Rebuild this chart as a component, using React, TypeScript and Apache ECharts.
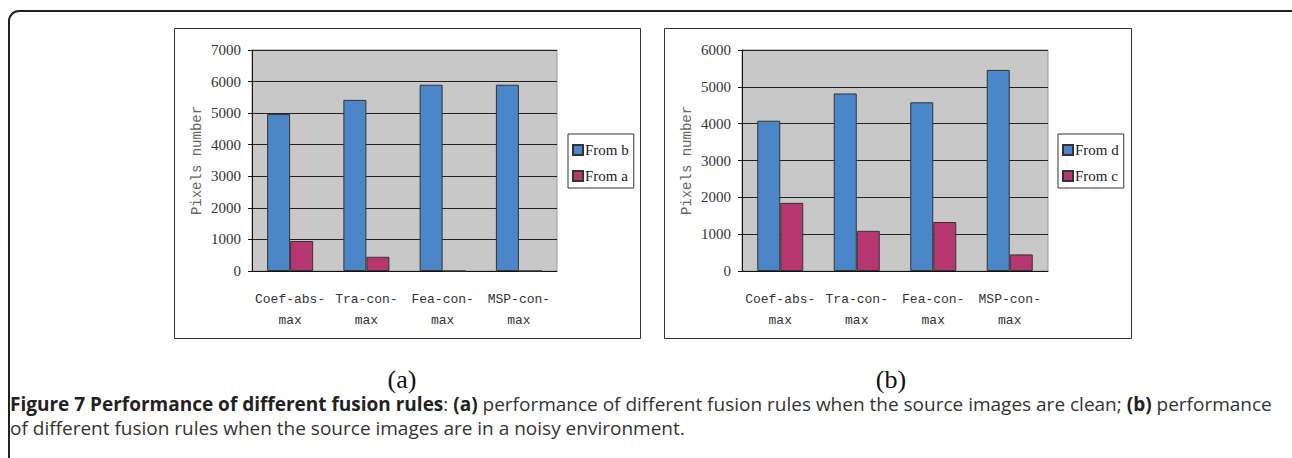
import React, { useEffect, useRef } from "react";
import * as echarts from "echarts";

const categories = ["Coef-abs-\nmax", "Tra-con-\nmax", "Fea-con-\nmax", "MSP-con-\nmax"];
const fromB = [4970, 5420, 5900, 5900];
const fromA = [950, 450, 0, 0];
const fromD = [4080, 4820, 4580, 5460];
const fromC = [1850, 1090, 1330, 450];
const yTicksA = { min: 0, max: 7000, interval: 1000 };
const yTicksB = { min: 0, max: 6000, interval: 1000 };
const yName = "Pixels number";
const panelLabels = ["(a)", "(b)"];

const BLUE = "#4a86c8";
const MAGENTA = "#b6376f";

export default function App() {
  const ref = useRef<HTMLDivElement>(null);
  useEffect(() => {
    const chart = echarts.init(ref.current!, null, { renderer: "svg" });
    const grids = [
      { left: 252, top: 50, width: 305, height: 221 },
      { left: 742, top: 50, width: 306, height: 221 },
    ];
    const xAxis = grids.map((_, i) => ({
      type: "category",
      gridIndex: i,
      data: categories,
      axisLine: { lineStyle: { color: "#111", width: 1 } },
      axisTick: { inside: true, length: 4, lineStyle: { color: "#333" } },
      axisLabel: {
        fontFamily: "Liberation Mono",
        fontSize: 13,
        color: "#333",
        margin: 18,
        lineHeight: 21,
        interval: 0,
      },
    }));
    const yAxis = [yTicksA, yTicksB].map((t, i) => ({
      type: "value",
      gridIndex: i,
      min: t.min,
      max: t.max,
      interval: t.interval,
      name: yName,
      nameLocation: "middle",
      nameGap: 48,
      nameTextStyle: { fontFamily: "Liberation Mono", fontSize: 14, color: "#666" },
      axisLine: { show: true, lineStyle: { color: "#111" } },
      axisTick: { show: true, length: 4, lineStyle: { color: "#111" } },
      splitLine: { show: true, lineStyle: { color: "#222", width: 1 } },
      axisLabel: {
        fontFamily: "Liberation Serif",
        fontSize: 15,
        color: "#333",
        margin: 11,
        formatter: (v: number) => String(v),
      },
    }));
    const barBase = {
      type: "bar",
      barWidth: 23,
      barGap: "0%",
      itemStyle: { borderColor: "#333", borderWidth: 1 },
    };
    const series = [
      { ...barBase, name: "From b", xAxisIndex: 0, yAxisIndex: 0, data: fromB, itemStyle: { ...barBase.itemStyle, color: BLUE } },
      { ...barBase, name: "From a", xAxisIndex: 0, yAxisIndex: 0, data: fromA, itemStyle: { ...barBase.itemStyle, color: MAGENTA } },
      { ...barBase, name: "From d", xAxisIndex: 1, yAxisIndex: 1, data: fromD, itemStyle: { ...barBase.itemStyle, color: BLUE } },
      { ...barBase, name: "From c", xAxisIndex: 1, yAxisIndex: 1, data: fromC, itemStyle: { ...barBase.itemStyle, color: MAGENTA } },
    ];
    const legendBase = {
      orient: "vertical",
      top: 134,
      itemWidth: 10,
      itemHeight: 10,
      itemGap: 8,
      padding: [7, 5, 3, 4],
      borderColor: "#333",
      borderWidth: 1,
      backgroundColor: "#fff",
      borderRadius: 0,
      icon: "rect",
      textStyle: { fontFamily: "Liberation Serif", fontSize: 15, color: "#222", lineHeight: 18, padding: [0, 0, 0, -3] },
    };
    const legend = [
      { ...legendBase, left: 568, data: ["From b", "From a"] },
      { ...legendBase, left: 1058, data: ["From d", "From c"] },
    ];
    const graphic = [
      {
        type: "rect",
        shape: { x: 9, y: 11, width: 1300, height: 500, r: 10 },
        style: { fill: "none", stroke: "#222", lineWidth: 2 },
        z: -1,
      },
      { type: "rect", shape: { x: 174.5, y: 28.5, width: 466, height: 310 }, style: { fill: "none", stroke: "#333", lineWidth: 1 }, z: -1 },
      { type: "rect", shape: { x: 664.5, y: 28.5, width: 467, height: 310 }, style: { fill: "none", stroke: "#333", lineWidth: 1 }, z: -1 },
      { type: "text", x: 402, y: 379, style: { text: panelLabels[0], font: "26px 'Liberation Serif'", fill: "#111", textAlign: "center", textVerticalAlign: "middle" } },
      { type: "text", x: 891, y: 379, style: { text: panelLabels[1], font: "26px 'Liberation Serif'", fill: "#111", textAlign: "center", textVerticalAlign: "middle" } },
      {
        type: "text",
        x: 10,
        y: 404,
        style: {
          text: "{b|Figure 7 Performance of different fusion rules}{n|: }{b|(a)}{n| performance of different fusion rules when the source images are clean; }{b|(b)}{n| performance}",
          textVerticalAlign: "middle",
          rich: {
            b: { fontFamily: "Open Sans", fontWeight: "bold", fontSize: 19, fill: "#222" },
            n: { fontFamily: "Open Sans", fontSize: 19, fill: "#333" },
          },
        },
      },
      {
        type: "text",
        x: 10,
        y: 428,
        style: {
          text: "of different fusion rules when the source images are in a noisy environment.",
          font: "19px 'Open Sans'",
          fill: "#333",
          textVerticalAlign: "middle",
        },
      },
    ];
    chart.setOption({
      animation: false,
      backgroundColor: "#fff",
      grid: grids.map((g) => ({ ...g, show: true, backgroundColor: "#c8c8c8", borderColor: "#999", borderWidth: 1 })),
      xAxis,
      yAxis,
      legend,
      series,
      graphic,
    } as any);
    return () => chart.dispose();
  }, []);
  return <div ref={ref} style={{ position: "fixed", left: 0, top: 0, width: 1292, height: 458 }} />;
}
